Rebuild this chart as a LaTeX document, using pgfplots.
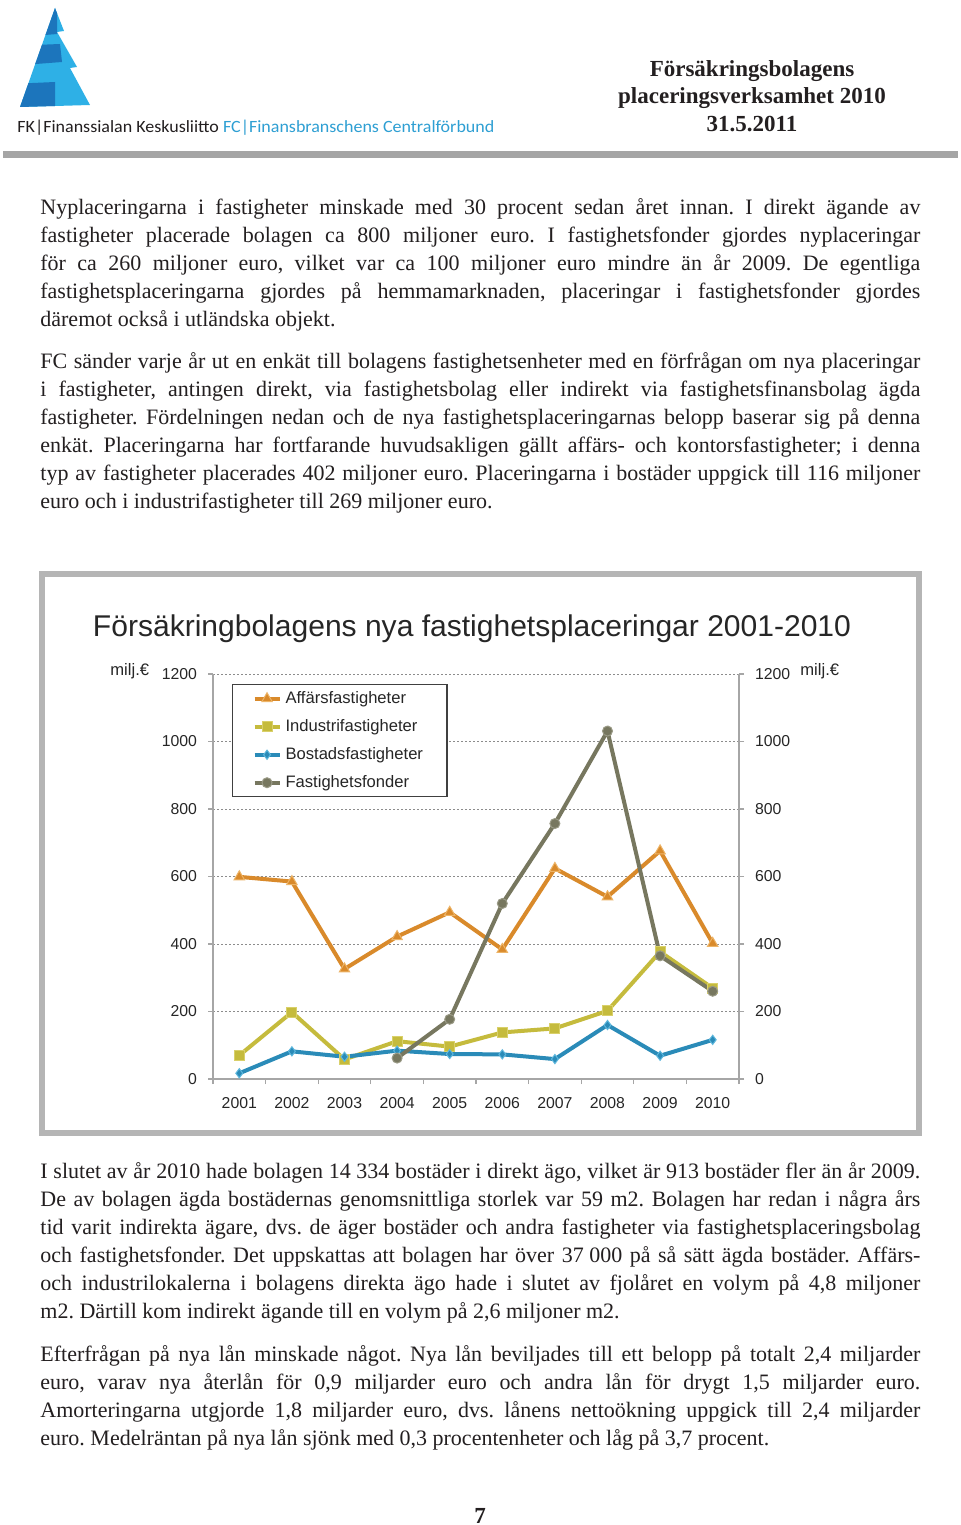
\documentclass[border=0pt]{standalone}
\usepackage{pgfplots}
\pgfplotsset{compat=1.18}
\usepackage{fontspec}
\usepackage{graphicx}
\setmainfont{Liberation Serif}
\setsansfont{Liberation Sans}
\newfontfamily\logofont{Carlito}
\frenchspacing

\definecolor{bodytext}{HTML}{231F20}
\definecolor{labeltext}{HTML}{262626}
\definecolor{cOrange}{HTML}{D98A2B}
\definecolor{cOrangeL}{HTML}{EDB467}
\definecolor{cYellow}{HTML}{C5BB3D}
\definecolor{cYellowL}{HTML}{D9D06A}
\definecolor{cBlue}{HTML}{2A8BB8}
\definecolor{cBlueL}{HTML}{5DB7DD}
\definecolor{cGrey}{HTML}{77775F}
\definecolor{cGreyL}{HTML}{9A9A86}
\definecolor{axisgray}{HTML}{A6A6A6}
\definecolor{gridgray}{HTML}{8C8C8C}
\definecolor{framegray}{HTML}{B5B5B5}
\definecolor{bargray}{HTML}{A5A5A5}
\definecolor{logodark}{HTML}{1C75BC}
\definecolor{logolight}{HTML}{2EB0E6}
\definecolor{logoblue}{HTML}{2E9FD3}

\newlength\jl
\newcommand\jline[1]{\settowidth\jl{#1}\ifdim\jl>440pt\relax\resizebox{440pt}{\height}{#1}\else\makebox[440pt][s]{#1}\fi}
\newcommand\bodyfont{\fontsize{11}{14}\selectfont\color{bodytext}}
\newcommand\tickfont{\sffamily\fontsize{7.9}{9}\selectfont}

\begin{document}
\begin{tikzpicture}[x=0.5pt,y=0.5pt]
\useasboundingbox (0,0) rectangle (960,-1525);
\fill[white] (0,0) rectangle (960,-1525);

% ---------- header ----------
\begin{scope}
\clip (55,-8) -- (64,-31) -- (57,-32) -- (77,-67) -- (70,-68) -- (90,-105) -- (20,-107) -- cycle;
\fill[logolight] (0,0) rectangle (100,-110);
\fill[logodark] (10,-5) -- (57,-5) -- (57,-34) -- (10,-38) -- cycle;
\fill[logodark] (10,-46) -- (60,-44) -- (62,-62) -- (10,-66) -- cycle;
\fill[logodark] (10,-84) -- (55,-82) -- (55,-110) -- (10,-110) -- cycle;
\end{scope}
\node[anchor=base west,inner sep=0pt] at (17,-133) {\resizebox{238.5pt}{\height}{\logofont\fontsize{8.6}{10}\selectfont\color{bodytext}FK|Finanssialan Keskusliitto \color{logoblue}FC|Finansbranschens Centralförbund}};
\begin{scope}[font=\bfseries\fontsize{11.5}{14}\selectfont, color=bodytext]
\node[anchor=base,inner sep=0pt] at (752,-76) {Försäkringsbolagens};
\node[anchor=base,inner sep=0pt] at (752,-104) {placeringsverksamhet 2010};
\node[anchor=base,inner sep=0pt] at (752,-132) {31.5.2011};
\end{scope}
\fill[bargray] (3,-151) rectangle (958,-158);

% ---------- body text ----------
\begin{scope}[every node/.style={anchor=base west,inner sep=0pt}]
\node at (40,-214) {\bodyfont\jline{Nyplaceringarna i fastigheter minskade med 30 procent sedan året innan. I direkt ägande av}};
\node at (40,-242) {\bodyfont\jline{fastigheter placerade bolagen ca 800 miljoner euro. I fastighetsfonder gjordes nyplaceringar}};
\node at (40,-270) {\bodyfont\jline{för ca 260 miljoner euro, vilket var ca 100 miljoner euro mindre än år 2009. De egentliga}};
\node at (40,-298) {\bodyfont\jline{fastighetsplaceringarna gjordes på hemmamarknaden, placeringar i fastighetsfonder gjordes}};
\node at (40,-326) {\bodyfont däremot också i utländska objekt.};
\node at (40,-368) {\bodyfont\jline{FC sänder varje år ut en enkät till bolagens fastighetsenheter med en förfrågan om nya placeringar}};
\node at (40,-396) {\bodyfont\jline{i fastigheter, antingen direkt, via fastighetsbolag eller indirekt via fastighetsfinansbolag ägda}};
\node at (40,-424) {\bodyfont\jline{fastigheter. Fördelningen nedan och de nya fastighetsplaceringarnas belopp baserar sig på denna}};
\node at (40,-452) {\bodyfont\jline{enkät. Placeringarna har fortfarande huvudsakligen gällt affärs- och kontorsfastigheter; i denna}};
\node at (40,-480) {\bodyfont\jline{typ av fastigheter placerades 402 miljoner euro. Placeringarna i bostäder uppgick till 116 miljoner}};
\node at (40,-508) {\bodyfont euro och i industrifastigheter till 269 miljoner euro.};
\node at (40,-1178) {\bodyfont\jline{I slutet av år 2010 hade bolagen 14\kern0.25em 334 bostäder i direkt ägo, vilket är 913 bostäder fler än år 2009.}};
\node at (40,-1206) {\bodyfont\jline{De av bolagen ägda bostädernas genomsnittliga storlek var 59 m2. Bolagen har redan i några års}};
\node at (40,-1234) {\bodyfont\jline{tid varit indirekta ägare, dvs. de äger bostäder och andra fastigheter via fastighetsplaceringsbolag}};
\node at (40,-1262) {\bodyfont\jline{och fastighetsfonder. Det uppskattas att bolagen har över 37\kern0.25em 000 på så sätt ägda bostäder. Affärs-}};
\node at (40,-1290) {\bodyfont\jline{och industrilokalerna i bolagens direkta ägo hade i slutet av fjolåret en volym på 4,8 miljoner}};
\node at (40,-1318) {\bodyfont m2. Därtill kom indirekt ägande till en volym på 2,6 miljoner m2.};
\node at (40,-1361) {\bodyfont\jline{Efterfrågan på nya lån minskade något. Nya lån beviljades till ett belopp på totalt 2,4 miljarder}};
\node at (40,-1389) {\bodyfont\jline{euro, varav nya återlån för 0,9 miljarder euro och andra lån för drygt 1,5 miljarder euro.}};
\node at (40,-1417) {\bodyfont\jline{Amorteringarna utgjorde 1,8 miljarder euro, dvs. lånens nettoökning uppgick till 2,4 miljarder}};
\node at (40,-1445) {\bodyfont euro. Medelräntan på nya lån sjönk med 0,3 procentenheter och låg på 3,7 procent.};
\end{scope}
\node[anchor=base,inner sep=0pt,font=\bfseries\fontsize{11.5}{14}\selectfont,color=bodytext] at (480,-1523) {7};

% ---------- chart frame and title ----------
\draw[framegray, line width=2.6pt] (42,-574) rectangle (919,-1133);
\node[anchor=base,inner sep=0pt] at (472,-636) {\resizebox{379pt}{\height}{\sffamily\fontsize{15}{17}\selectfont\color{labeltext}Försäkringbolagens nya fastighetsplaceringar 2001-2010}};
\node[anchor=base west,inner sep=0pt,font=\sffamily\fontsize{8.3}{10}\selectfont,color=labeltext] at (110,-675) {milj.€};
\node[anchor=base west,inner sep=0pt,font=\sffamily\fontsize{8.3}{10}\selectfont,color=labeltext] at (800,-675) {milj.€};

\begin{axis}[
  at={(106.5pt,-539.5pt)}, anchor=south west,
  scale only axis, width=263pt, height=202.5pt,
  xmin=2000.5, xmax=2010.5, ymin=0, ymax=1200,
  axis x line*=bottom, axis y line*=left,
  axis line style={axisgray, line width=0.8pt},
  xtick={2001,2002,...,2010},
  minor xtick={2000.5,2001.5,...,2010.5},
  ytick={0,200,...,1200},
  tick align=outside,
  major tick length=2.5pt, minor tick length=2.6pt,
  tick style={axisgray, line width=0.6pt},
  every major x tick/.append style={draw=none},
  ymajorgrids,
  major grid style={gridgray, line width=0.4pt, dash pattern=on 1.2pt off 0.8pt},
  /pgf/number format/assume math mode=true,
  /pgf/number format/1000 sep={},
  ticklabel style={font=\tickfont, text=labeltext},
  xticklabel style={yshift=-3pt},
  yticklabel style={xshift=-2pt},
  clip=false,
  legend style={at={(0.036,0.975)}, anchor=north west, draw=black!75, line width=0.6pt,
    fill=white, font=\sffamily\fontsize{8.3}{9}\selectfont, text=labeltext,
    inner xsep=10pt, inner ysep=0pt, row sep=0pt,
    nodes={inner ysep=3pt, inner xsep=2pt, text height=6.2pt, text depth=1.8pt}},
  legend cell align=left,
  legend image code/.code={\draw[mark repeat=2,mark phase=2,#1,line width=2pt] plot coordinates {(0pt,0pt) (6.25pt,0pt) (12.5pt,0pt)};},
]
\addplot[cOrange, line width=2pt, mark=triangle*, mark size=3pt, mark options={fill=cOrange, draw=cOrangeL, line width=0.5pt}]
  coordinates {(2001,599) (2002,585) (2003,326) (2004,422) (2005,494) (2006,384) (2007,624) (2008,540) (2009,676) (2010,402)};
\addlegendentry{Affärsfastigheter}
\addplot[cYellow, line width=2pt, mark=square*, mark size=2.5pt, mark options={fill=cYellow, draw=cYellowL, line width=0.5pt}]
  coordinates {(2001,70) (2002,198) (2003,58) (2004,112) (2005,96) (2006,138) (2007,150) (2008,202) (2009,377) (2010,269)};
\addlegendentry{Industrifastigheter}
\addplot[cBlue, line width=2pt, mark=diamond*, mark size=2.3pt, mark options={fill=cBlue, draw=cBlueL, line width=0.5pt}]
  coordinates {(2001,17) (2002,82) (2003,66) (2004,84) (2005,74) (2006,73) (2007,59) (2008,160) (2009,69) (2010,116)};
\addlegendentry{Bostadsfastigheter}
\addplot[cGrey, line width=2pt, mark=*, mark size=2.5pt, mark options={fill=cGrey, draw=cGreyL, line width=0.5pt}]
  coordinates {(2004,62) (2005,177) (2006,520) (2007,757) (2008,1031) (2009,365) (2010,260)};
\addlegendentry{Fastighetsfonder}
\end{axis}

\begin{axis}[
  at={(106.5pt,-539.5pt)}, anchor=south west,
  scale only axis, width=263pt, height=202.5pt,
  xmin=2000.5, xmax=2010.5, ymin=0, ymax=1200,
  axis x line=none, axis y line*=right,
  axis line style={axisgray, line width=0.8pt},
  ytick={0,200,...,1200},
  tick align=outside, major tick length=2.5pt,
  tick style={axisgray, line width=0.6pt},
  /pgf/number format/assume math mode=true,
  /pgf/number format/1000 sep={},
  ticklabel style={font=\tickfont, text=labeltext},
  yticklabel style={xshift=2pt},
]
\addplot[draw=none] coordinates {(2001,0)};
\end{axis}
\end{tikzpicture}
\end{document}
